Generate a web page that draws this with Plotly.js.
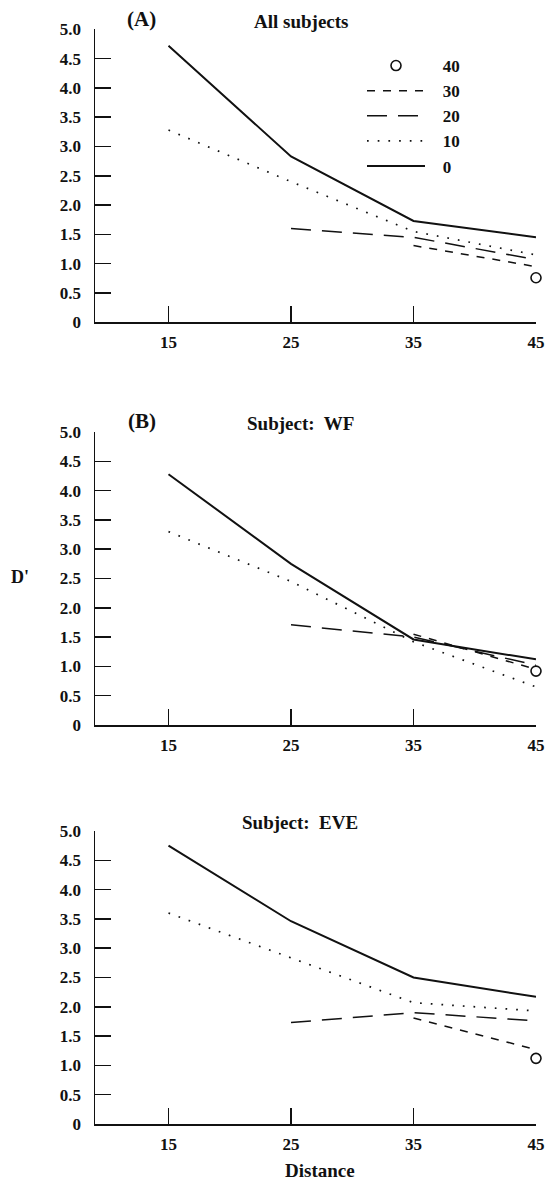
<!DOCTYPE html>
<html>
<head>
<meta charset="utf-8">
<script src="https://cdn.plot.ly/plotly-3.0.1.min.js"></script>
<style>html,body{margin:0;padding:0;background:#fff;}#chart{width:548px;height:1186px;}</style>
</head>
<body>
<div id="chart"></div>
<script>
// Distance categories (x values)
const distance = [15, 25, 35, 45];
// Series labels (legend)
const seriesNames = ['0', '10', '20', '30', '40'];

// Panel A: All subjects
const A_d0  = [4.72, 2.83, 1.73, 1.45];
const A_d10 = [3.28, 2.40, 1.55, 1.15];
const A_d20 = [null, 1.60, 1.45, 1.07];
const A_d30 = [null, null, 1.31, 0.95];
const A_d40 = [null, null, null, 0.76];

// Panel B: Subject WF
const B_d0  = [4.28, 2.75, 1.46, 1.12];
const B_d10 = [3.30, 2.45, 1.42, 0.65];
const B_d20 = [null, 1.71, 1.50, 1.02];
const B_d30 = [null, null, 1.55, 0.95];
const B_d40 = [null, null, null, 0.92];

// Panel C: Subject EVE
const C_d0  = [4.75, 3.46, 2.50, 2.17];
const C_d10 = [3.60, 2.84, 2.07, 1.93];
const C_d20 = [null, 1.73, 1.90, 1.76];
const C_d30 = [null, null, 1.81, 1.27];
const C_d40 = [null, null, null, 1.12];

const yTickVals = [0, 0.5, 1, 1.5, 2, 2.5, 3, 3.5, 4, 4.5, 5];
const yTickText = ['0', '0.5', '1.0', '1.5', '2.0', '2.5', '3.0', '3.5', '4.0', '4.5', '5.0'];
const xTickVals = [15, 25, 35, 45];
const xTickText = ['15', '25', '35', '45'];

const ink = '#111';
const serif = 'Liberation Serif, Times New Roman, serif';

const styles = {
  '0':  {mode: 'lines', line: {color: ink, width: 2, dash: 'solid'}},
  '10': {mode: 'lines', line: {color: ink, width: 1.7, dash: '1.7px,9px'}},
  '20': {mode: 'lines', line: {color: ink, width: 1.5, dash: '20px,11px'}},
  '30': {mode: 'lines', line: {color: ink, width: 1.5, dash: '8px,8px'}},
  '40': {mode: 'markers', marker: {symbol: 'circle-open', size: 10, color: ink, line: {width: 1.6, color: ink}}}
};

function panel(values, xa, ya, showLegend) {
  return seriesNames.map((name, i) => Object.assign({
    type: 'scatter',
    x: distance,
    y: values[i],
    xaxis: xa, yaxis: ya,
    name: '\u00a0\u00a0\u00a0' + name,
    showlegend: showLegend,
    cliponaxis: false,
    hoverinfo: 'x+y'
  }, styles[name]));
}

const data = [].concat(
  panel([A_d0, A_d10, A_d20, A_d30, A_d40], 'x', 'y', true),
  panel([B_d0, B_d10, B_d20, B_d30, B_d40], 'x2', 'y2', false),
  panel([C_d0, C_d10, C_d20, C_d30, C_d40], 'x3', 'y3', false)
);

const H = 1186;
function dom(topPx, botPx) { return [1 - botPx / H, 1 - topPx / H]; }

const tickFont = {family: serif, size: 17, color: ink, weight: 'bold'};

function xAxis(anchor) {
  return {
    anchor: anchor, domain: [0, 1], range: [9, 45],
    tickvals: xTickVals, ticktext: xTickText,
    ticks: 'inside', ticklen: 16, tickwidth: 1.5, tickcolor: ink,
    showline: true, linecolor: ink, linewidth: 1.5,
    showgrid: false, zeroline: false,
    tickfont: tickFont, ticklabelstandoff: 4,
    fixedrange: true
  };
}
function yAxis(anchor, domain) {
  return {
    anchor: anchor, domain: domain, range: [0, 5],
    tickvals: yTickVals, ticktext: yTickText,
    ticks: 'inside', ticklen: 16, tickwidth: 1.5, tickcolor: ink,
    showline: true, linecolor: ink, linewidth: 1.5,
    showgrid: false, zeroline: false,
    tickfont: tickFont, ticklabelstandoff: 9,
    fixedrange: true
  };
}

const ann = (text, x, y, size, opts) => Object.assign({
  text: text, xref: 'paper', yref: 'paper', x: x, y: 1 - y / H,
  showarrow: false, font: {family: serif, size: size, color: ink, weight: 'bold'},
  xanchor: 'center', yanchor: 'middle'
}, opts || {});

const W = 548, L = 95, R = 12;
const px = (p) => (p - L) / (W - L - R);

const layout = {
  width: 548, height: 1186,
  margin: {l: L, r: R, t: 0, b: 0},
  paper_bgcolor: '#fff', plot_bgcolor: '#fff',
  showlegend: true,
  legend: {
    x: px(362), y: 1 - 48 / H, xanchor: 'left', yanchor: 'top',
    traceorder: 'reversed', itemwidth: 58,
    font: {family: serif, size: 17, color: ink, weight: 'bold'},
    bgcolor: 'rgba(0,0,0,0)', tracegroupgap: 0
  },
  xaxis: xAxis('y'),
  yaxis: yAxis('x', dom(29.3, 322.3)),
  xaxis2: xAxis('y2'),
  yaxis2: yAxis('x2', dom(432, 725)),
  xaxis3: xAxis('y3'),
  yaxis3: yAxis('x3', dom(831, 1124)),
  annotations: [
    ann('(A)', px(141), 19, 21),
    ann('All subjects', px(301), 21, 19),
    ann('(B)', px(142), 421, 21),
    ann('Subject:  WF', px(300), 424, 19),
    ann('Subject:  EVE', px(300), 822, 19),
    ann('D\'', px(20), 577, 18),
    ann('Distance', px(320), 1170, 19)
  ]
};

Plotly.newPlot('chart', data, layout, {staticPlot: true, displayModeBar: false});
</script>
</body>
</html>
